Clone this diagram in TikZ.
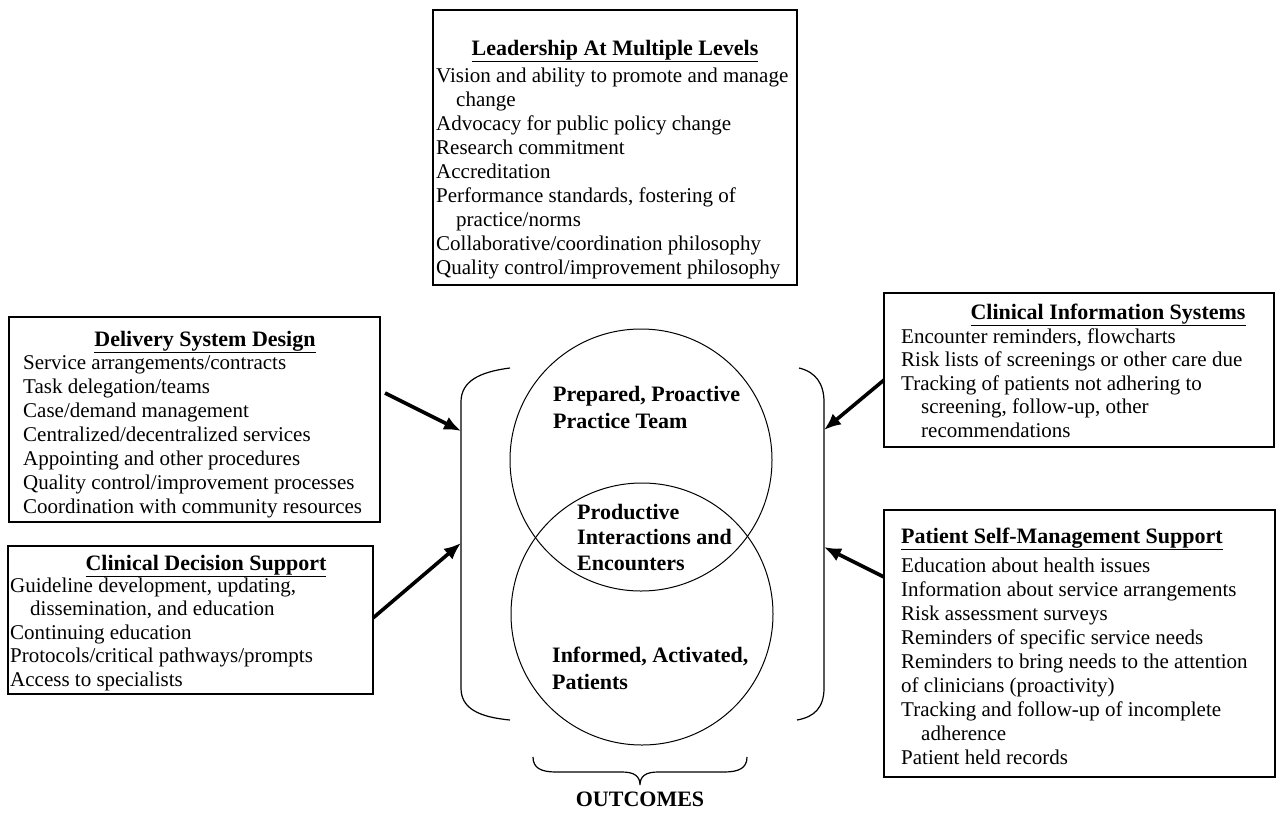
\documentclass[tikz,border=0pt]{standalone}
\usepackage{fontspec}
\setmainfont{Liberation Serif}
\usetikzlibrary{arrows.meta}
\newcommand{\lns}[1]{\begin{tabular}[t]{@{}l@{}}#1\end{tabular}}
\newcommand{\ind}{\hspace*{20pt}}
\begin{document}
\begin{tikzpicture}[x=1pt,y=-1pt,
  box/.style={draw, line width=1.2pt, inner sep=0pt},
  ttl/.style={inner sep=0pt, anchor=base, font=\fontsize{22}{24}\selectfont\bfseries},
  txt/.style={inner sep=0pt, anchor=base west, font=\fontsize{21}{24}\selectfont},
  txtb/.style={inner sep=0pt, anchor=base west, font=\fontsize{21}{23.5}\selectfont},
  ctxt/.style={inner sep=0pt, anchor=base west, font=\fontsize{22}{27}\selectfont\bfseries},
  ring/.style={draw, circle, line width=1pt, inner sep=0pt, minimum size=262pt},
  bracket/.style={line width=1.2pt},
  arr/.style={line width=3.6pt, -{Latex[length=17pt,width=14pt]}}
]
\useasboundingbox (0,0) rectangle (1278,815);

% ---------- boxes ----------
\node[box, minimum width=364pt, minimum height=275pt] (lead) at (615,147.5) {};
\node[ttl] (leadT) at (615,55) {\underline{Leadership At Multiple Levels}};
\node[txt] (leadB) at (436,82) {\lns{Vision and ability to promote and manage\\
\ind change\\
Advocacy for public policy change\\
Research commitment\\
Accreditation\\
Performance standards, fostering of\\
\ind practice/norms\\
Collaborative/coordination philosophy\\
Quality control/improvement philosophy}};

\node[box, minimum width=371pt, minimum height=205pt] (dsd) at (194.5,419.5) {};
\node[ttl] (dsdT) at (205,346) {\underline{Delivery System Design}};
\node[txt] (dsdB) at (23,369) {\lns{Service arrangements/contracts\\
Task delegation/teams\\
Case/demand management\\
Centralized/decentralized services\\
Appointing and other procedures\\
Quality control/improvement processes\\
Coordination with community resources}};

\node[box, minimum width=365pt, minimum height=148pt] (cds) at (190.5,620) {};
\node[ttl] (cdsT) at (206,570) {\underline{Clinical Decision Support}};
\node[txtb] (cdsB) at (10,592) {\lns{Guideline development, updating,\\
\ind dissemination, and education\\
Continuing education\\
Protocols/critical pathways/prompts\\
Access to specialists}};

\node[box, minimum width=390pt, minimum height=154pt] (cis) at (1079,370) {};
\node[ttl] (cisT) at (1108,319) {\underline{Clinical Information Systems}};
\node[txtb] (cisB) at (901,343) {\lns{Encounter reminders, flowcharts\\
Risk lists of screenings or other care due\\
Tracking of patients not adhering to\\
\ind screening, follow-up, other\\
\ind recommendations}};

\node[box, minimum width=391pt, minimum height=267pt] (psm) at (1079.5,643.5) {};
\node[ttl, anchor=base west] (psmT) at (901,543) {\underline{Patient Self-Management Support}};
\node[txt] (psmB) at (901,572) {\lns{Education about health issues\\
Information about service arrangements\\
Risk assessment surveys\\
Reminders of specific service needs\\
Reminders to bring needs to the attention\\
of clinicians (proactivity)\\
Tracking and follow-up of incomplete\\
\ind adherence\\
Patient held records}};

% ---------- circles ----------
\node[ring] (team) at (641,460) {};
\node[ring] (pat) at (642,614) {};
\node[ctxt] (teamT) at (553,401) {\lns{Prepared, Proactive\\Practice Team}};
\node[ctxt, font=\fontsize{22}{25.5}\selectfont\bfseries] (interT) at (577,519) {\lns{Productive\\Interactions and\\Encounters}};
\node[ctxt] (patT) at (552,662) {\lns{Informed, Activated,\\Patients}};

% ---------- brackets ----------
\draw[bracket] (510,368) .. controls (478,372) and (461,382) .. (461,402) -- (461,688)
  .. controls (461,708) and (478,717) .. (510,720);
\draw[bracket] (799,368) .. controls (816,372) and (824,384) .. (824,402) -- (824,688)
  .. controls (824,708) and (814,717) .. (797,720);

% ---------- arrow ends ----------
\coordinate (a1s) at (385,393);  \coordinate (a1e) at (461,431);
\coordinate (a2s) at (373,618);  \coordinate (a2e) at (461,543);
\coordinate (a3s) at (884,380);  \coordinate (a3e) at (824,430);
\coordinate (a4s) at (884,577);  \coordinate (a4e) at (824,547);
\draw[arr] (a1s) -- (a1e);
\draw[arr] (a2s) -- (a2e);
\draw[arr] (a3s) -- (a3e);
\draw[arr] (a4s) -- (a4e);

% ---------- outcomes brace ----------
\coordinate (brL) at (533,757);
\coordinate (brTip) at (640,785);
\coordinate (brR) at (747,757);
\draw[bracket] (brL) .. controls (533,768) and (541,772) .. (556,772) -- (622,772)
  .. controls (634,772) and (640,776) .. (brTip)
  .. controls (640,776) and (646,772) .. (658,772) -- (724,772)
  .. controls (739,772) and (747,768) .. (brR);
\node[ttl] (outc) at (640,806) {OUTCOMES};
\end{tikzpicture}
\end{document}
